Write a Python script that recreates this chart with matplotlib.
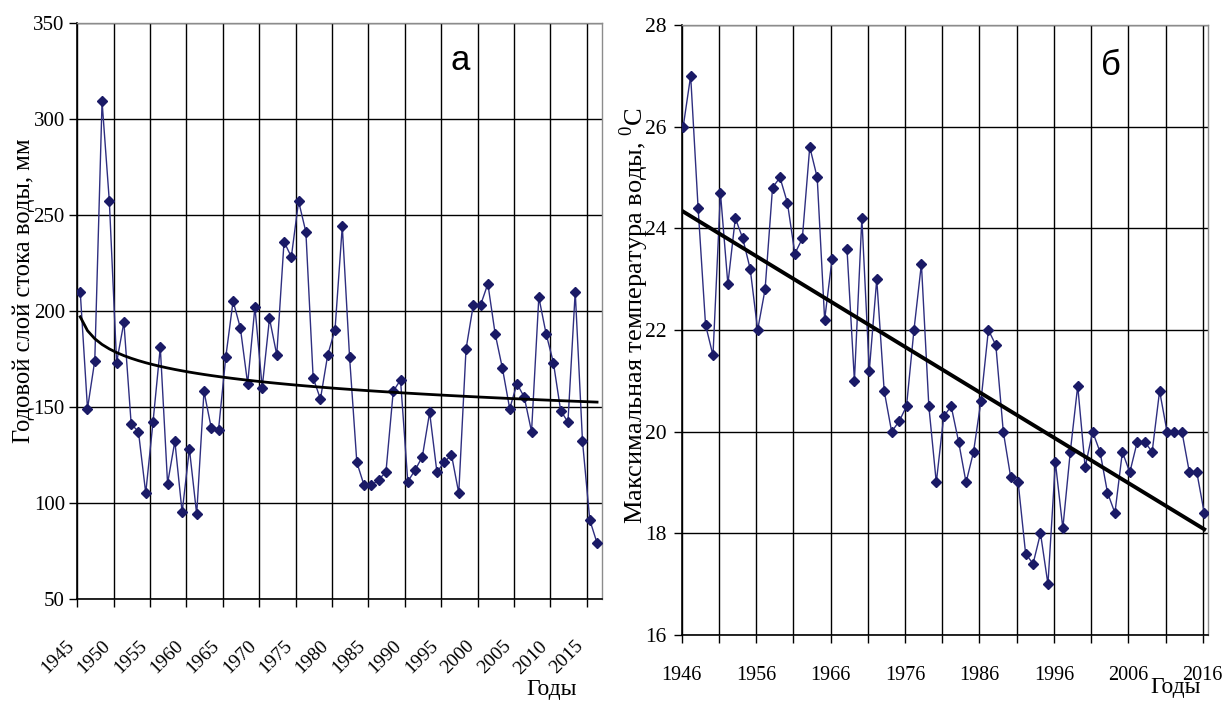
import numpy as np
import matplotlib
matplotlib.use("Agg")
import matplotlib.pyplot as plt

plt.rcParams['font.family'] = ['Liberation Serif', 'DejaVu Serif']
plt.rcParams['mathtext.fontset'] = 'custom'
plt.rcParams['mathtext.rm'] = 'Liberation Serif'

""" =======================  Data ========================== """

# Annual runoff depth, mm
years_a = np.arange(1945, 2017)
runoff = [210, 149, 174, 309, 257, 173, 194, 141, 137, 105,
          142, 181, 110, 132, 95, 128, 94, 158, 139, 138,
          176, 205, 191, 162, 202, 160, 196, 177, 236, 228,
          257, 241, 165, 154, 177, 190, 244, 176, 121, 109,
          109, 112, 116, 158, 164, 111, 117, 124, 147, 116,
          121, 125, 105, 180, 203, 203, 214, 188, 170, 149,
          162, 155, 137, 207, 188, 173, 148, 142, 210, 132,
          91, 79]

# Maximum water temperature, deg C (1967 missing)
years_b = np.arange(1946, 2017)
temp_max = [26.0, 27.0, 24.4, 22.1, 21.5, 24.7, 22.9, 24.2, 23.8, 23.2,
            22.0, 22.8, 24.8, 25.0, 24.5, 23.5, 23.8, 25.6, 25.0, 22.2,
            23.4, np.nan, 23.6, 21.0, 24.2, 21.2, 23.0, 20.8, 20.0, 20.2,
            20.5, 22.0, 23.3, 20.5, 19.0, 20.3, 20.5, 19.8, 19.0, 19.6,
            20.6, 22.0, 21.7, 20.0, 19.1, 19.0, 17.6, 17.4, 18.0, 17.0,
            19.4, 18.1, 19.6, 20.9, 19.3, 20.0, 19.6, 18.8, 18.4, 19.6,
            19.2, 19.8, 19.8, 19.6, 20.8, 20.0, 20.0, 20.0, 19.2, 19.2,
            18.4]

ticks_a = list(range(1945, 2016, 5))
ticks_b = list(range(1946, 2017, 5))
labels_b = [str(y) if (y - 1946) % 10 == 0 else '' for y in ticks_b]

line_col = '#2e2e80'
mark_col = '#1a1a66'


""" =======================  Helpers ========================== """

def style_axes(ax):
    ax.grid(True, color='black', linewidth=1.0)
    ax.set_axisbelow(True)
    for side in ['top', 'right']:
        ax.spines[side].set_color('#8c8c8c')
        ax.spines[side].set_linewidth(1.0)
    for side in ['left', 'bottom']:
        ax.spines[side].set_color('black')
        ax.spines[side].set_linewidth(1.2)
    ax.tick_params(direction='out', length=6, width=1.0, color='black')


def plot_series(ax, x, y):
    ax.plot(x, y, color=line_col, linewidth=1.0, zorder=3)
    ax.plot(x, y, linestyle='none', marker='D', markersize=5,
            color=mark_col, zorder=4)


""" =======================  Figure ========================== """

fig = plt.figure(figsize=(12.29, 7.01), dpi=100)

# Panel a: runoff with logarithmic trend
ax1 = fig.add_axes([0.0629, 0.1459, 0.4269, 0.8217])
off_a = 0.4
x_a = years_a + off_a
plot_series(ax1, x_a, runoff)

idx = np.arange(1, len(runoff) + 1)
k_log, b_log = np.polyfit(np.log(idx), np.array(runoff, dtype=float), 1)
ax1.plot(x_a, b_log + k_log * np.log(idx), color='black', linewidth=2.0, zorder=5)

ax1.set_xlim(1945, 1945 + (602 - 77.3) / 7.28)
ax1.set_ylim(50, 350)
ax1.set_yticks(range(50, 351, 50))
ax1.set_xticks(ticks_a)
ax1.set_xticklabels([str(t) for t in ticks_a], rotation=45, ha='right', va='top')
style_axes(ax1)
ax1.tick_params(axis='x', labelsize=14, pad=22)
ax1.tick_params(axis='y', labelsize=15, pad=3)
ax1.text(0.729, 0.935, 'а', transform=ax1.transAxes, fontsize=25,
         family=['Liberation Sans', 'DejaVu Sans'], ha='center', va='center')

# Panel b: maximum temperature with linear trend
ax2 = fig.add_axes([0.5547, 0.0942, 0.4285, 0.8702])
off_b = 0.2
x_b = years_b + off_b
plot_series(ax2, x_b, temp_max)

temp_arr = np.array(temp_max, dtype=float)
ok = ~np.isnan(temp_arr)
k_lin, b_lin = np.polyfit(years_b[ok], temp_arr[ok], 1)
ax2.plot(x_b, b_lin + k_lin * years_b, color='black', linewidth=2.8, zorder=5)

ax2.set_xlim(1946, 1946 + (1208.3 - 681.7) / 7.443)
ax2.set_ylim(16, 28)
ax2.set_yticks(range(16, 29, 2))
ax2.set_xticks(ticks_b)
ax2.set_xticklabels(labels_b)
style_axes(ax2)
ax2.tick_params(axis='x', labelsize=14.5, pad=16)
ax2.tick_params(axis='y', labelsize=15.5, pad=5)
ax2.text(0.815, 0.933, 'б', transform=ax2.transAxes, fontsize=25,
         family=['Liberation Sans', 'DejaVu Sans'], ha='center', va='center')

# Axis titles
fig.text(24 / 1229, 1 - 291 / 701, 'Годовой слой стока воды, мм',
         rotation=90, ha='center', va='center', fontsize=17.7)
fig.text(634 / 1229, 1 - 315 / 701, 'Максимальная температура воды, $^{0}$С',
         rotation=90, ha='center', va='center', fontsize=19)
fig.text(552 / 1229, 1 - 690 / 701, 'Годы', ha='center', va='center', fontsize=17)
fig.text(1176 / 1229, 1 - 688 / 701, 'Годы', ha='center', va='center', fontsize=17)

fig.savefig('out.png', dpi=100)
